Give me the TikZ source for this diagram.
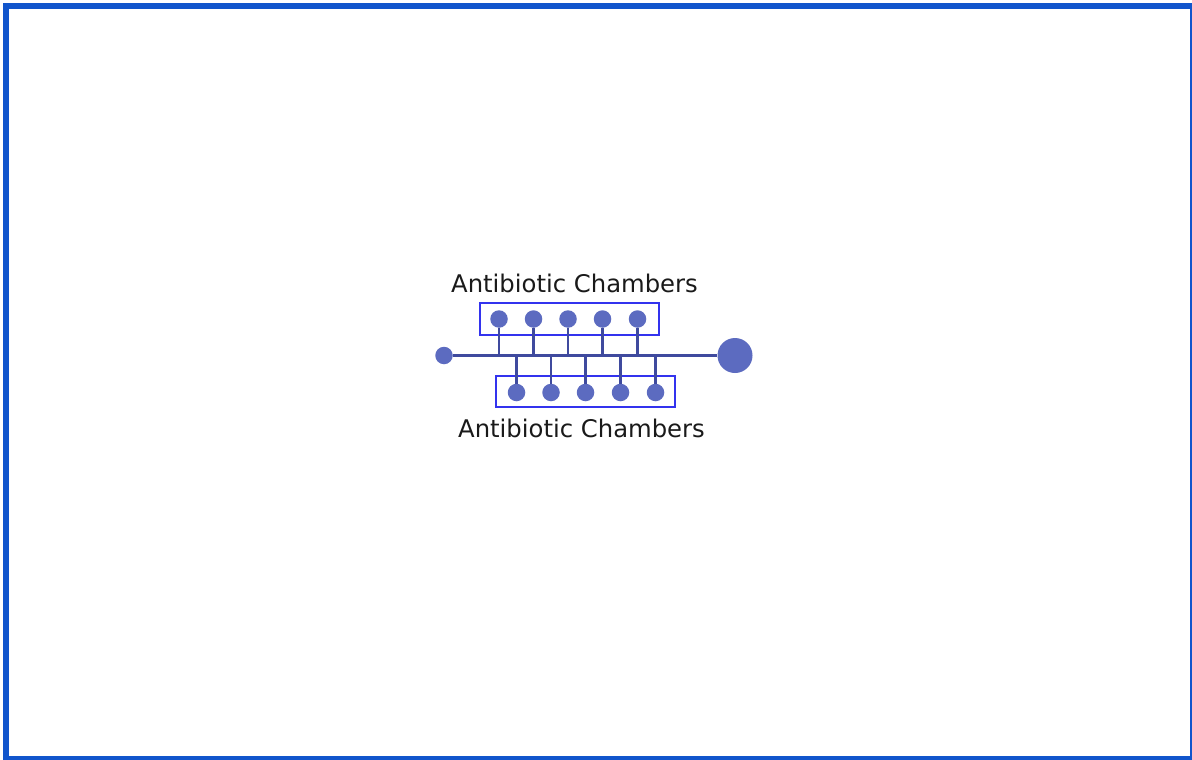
\documentclass[tikz,border=0pt]{standalone}
\usepackage{fontspec}
\setmainfont{DejaVu Sans}
\definecolor{frameblue}{HTML}{1155CC}
\definecolor{dotc}{HTML}{5C6BC0}
\definecolor{linec}{HTML}{3F4A9E}
\definecolor{boxc}{HTML}{3333EE}
\definecolor{txt}{HTML}{1A1A1A}
\begin{document}
\begin{tikzpicture}[x=1pt,y=-1pt,
  dotnode/.style={circle,fill=dotc,inner sep=0pt,minimum size=17.5pt},
  chan/.style={draw=linec,line width=2.2pt},
  chamberbox/.style={draw=boxc,line width=1.8pt},
  lbl/.style={text=txt,font=\fontsize{24.3}{28}\selectfont,inner sep=0pt}]
\useasboundingbox (0,0) rectangle (1192,760);
\fill[white] (0,0) rectangle (1192,760);
\draw[frameblue,line width=6pt] (6,6) rectangle (1192.5,758.5);
% main channel
\node[dotnode] (inlet) at (444,355.5) {};
\node[dotnode,minimum size=35pt] (outlet) at (735,355.5) {};
\draw[chan] (inlet) -- (outlet);
% boxes
\node[chamberbox,minimum width=179pt,minimum height=32pt,inner sep=0pt] (topbox) at (569.5,319) {};
\node[chamberbox,minimum width=179pt,minimum height=31pt,inner sep=0pt] (botbox) at (585.5,391.5) {};
% top chambers
\foreach \i/\x in {1/499,2/533.5,3/568,4/602.5,5/637.5}{
  \coordinate (tj\i) at (\x,355.5);
  \node[dotnode] (t\i) at (\x,319) {};
  \draw[chan] (t\i) -- (tj\i);
}
% bottom chambers
\foreach \i/\x in {1/516.5,2/551,3/585.5,4/620.5,5/655.5}{
  \coordinate (bj\i) at (\x,355.5);
  \node[dotnode] (b\i) at (\x,392.5) {};
  \draw[chan] (bj\i) -- (b\i);
}
\node[lbl] (toplabel) at (574.5,283) {Antibiotic Chambers};
\node[lbl] (botlabel) at (581.5,428) {Antibiotic Chambers};
\end{tikzpicture}
\end{document}
